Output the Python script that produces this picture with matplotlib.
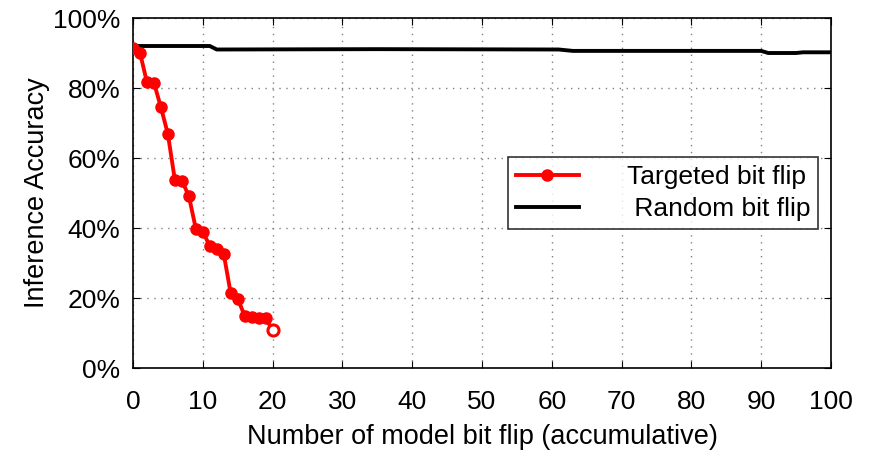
import matplotlib
matplotlib.use("Agg")
import matplotlib.pyplot as plt
from matplotlib.ticker import FuncFormatter

plt.rcParams["font.family"] = ["Liberation Sans", "DejaVu Sans"]

# Targeted bit flip: accuracy after each flipped bit
targeted_x = list(range(0, 21))
targeted_y = [91.3, 90.1, 81.6, 81.5, 74.5, 66.8, 53.7, 53.5, 49.2, 39.8, 38.9,
              34.9, 34.0, 32.6, 21.3, 19.8, 14.9, 14.5, 14.2, 14.2, 10.9]

# Random bit flip: almost flat
random_x = [0, 11, 12, 35, 61, 63, 90, 91, 95, 96, 100]
random_y = [92.0, 92.0, 91.0, 91.1, 91.0, 90.6, 90.6, 90.0, 90.0, 90.2, 90.2]

fig = plt.figure(figsize=(8.84, 4.55), dpi=100)
ax = fig.add_axes([133 / 884, 1 - 368 / 455, 698 / 884, 350 / 455])

ax.plot(targeted_x[:-1], targeted_y[:-1], color="red", lw=2.8, marker="o",
        ms=8, label="Targeted bit flip", zorder=3)
ax.plot(targeted_x[-2:], targeted_y[-2:], color="red", lw=2.8, zorder=3)
ax.plot(targeted_x[-1:], targeted_y[-1:], color="red", marker="o", ms=8,
        mfc="white", mew=2.2, ls="none", zorder=4)
# leading space keeps the labels right-aligned like the original
ax.plot(random_x, random_y, color="black", lw=2.8, label=" Random bit flip", zorder=2)

ax.set_xlim(0, 100)
ax.set_ylim(0, 100)
ax.set_xticks(range(0, 101, 10))
ax.set_yticks(range(0, 101, 20))
ax.yaxis.set_major_formatter(FuncFormatter(lambda v, p: f"{int(v)}%"))
ax.tick_params(direction="in", top=True, right=True, labelsize=19, length=5)
ax.tick_params(axis="x", pad=16)
ax.tick_params(axis="y", pad=9)
ax.grid(True, ls=(0, (1, 4)), color="gray", lw=1)
for s in ax.spines.values():
    s.set_linewidth(1.2)

ax.set_xlabel("Number of model bit flip (accumulative)", fontsize=19.5, labelpad=7)
ax.set_ylabel("Inference Accuracy", fontsize=19.5, labelpad=2)

leg = ax.legend(loc="upper left", bbox_to_anchor=(0.537, 0.603), borderaxespad=0,
                fontsize=19, frameon=True, fancybox=False, edgecolor="black",
                borderpad=0.3, handlelength=2.4, handletextpad=1.8,
                labelspacing=0.32)
leg.get_frame().set_linewidth(1.2)

fig.savefig("out.png", dpi=100)
